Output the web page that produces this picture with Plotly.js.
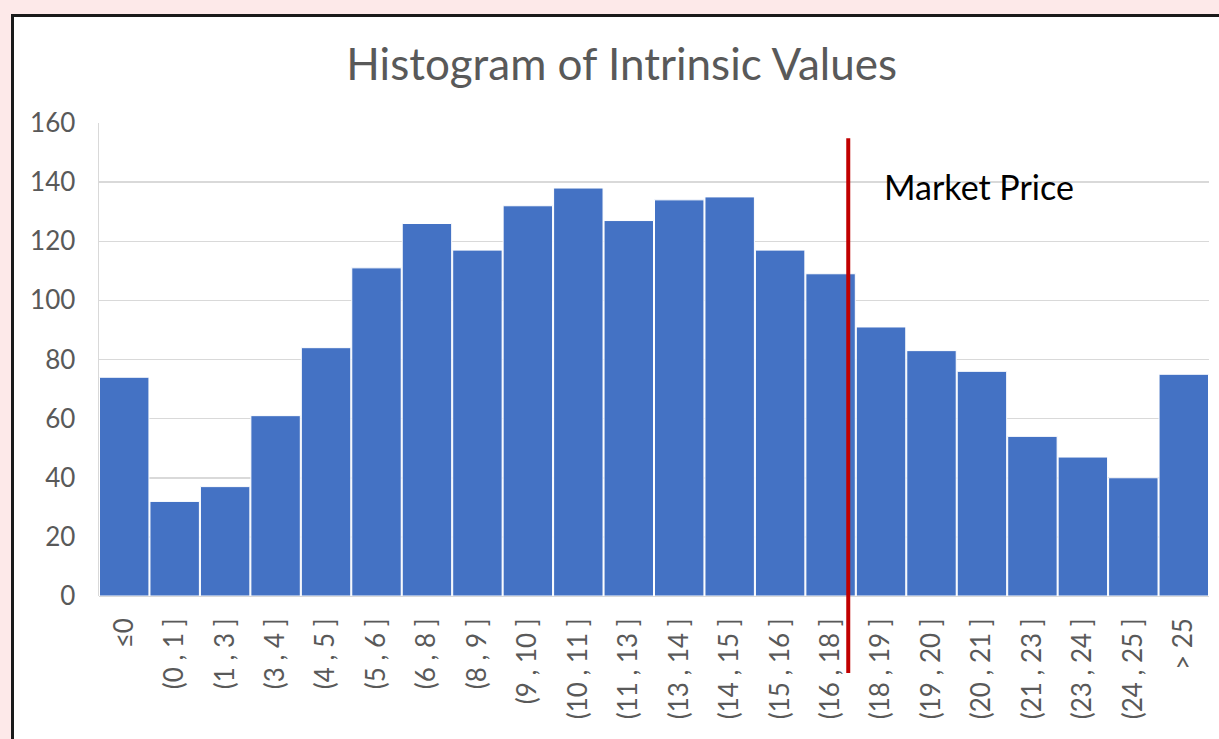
<!DOCTYPE html>
<html>
<head>
<meta charset="utf-8">
<script src="https://cdn.plot.ly/plotly-3.0.1.min.js"></script>
<style>
  html, body { margin: 0; padding: 0; background: #fde9e9; overflow: hidden; }
  #frame { position: absolute; left: 11px; top: 14px; width: 1230px; height: 760px;
           border: 3px solid #1a1a1a; background: #ffffff; }
  #chart { position: absolute; left: 0; top: 0; width: 1219px; height: 739px; }
</style>
</head>
<body>
<div id="frame"></div>
<div id="chart"></div>
<script>
const categories = ["≤0", "(0 , 1 ]", "(1 , 3 ]", "(3 , 4 ]", "(4 , 5 ]", "(5 , 6 ]", "(6 , 8 ]", "(8 , 9 ]",
  "(9 , 10 ]", "(10 , 11 ]", "(11 , 13 ]", "(13 , 14 ]", "(14 , 15 ]", "(15 , 16 ]", "(16 , 18 ]",
  "(18 , 19 ]", "(19 , 20 ]", "(20 , 21 ]", "(21 , 23 ]", "(23 , 24 ]", "(24 , 25 ]", "> 25"];
const counts = [74, 32, 37, 61, 84, 111, 126, 117, 132, 138, 127, 134, 135, 117, 109, 91, 83, 76, 54, 47, 40, 75];
const yTicks = [0, 20, 40, 60, 80, 100, 120, 140, 160];
const marketPricePos = 14.35;   // position on category axis
const marketLabel = "Market Price";

const trace = {
  type: "bar",
  x: categories.map((c, i) => i),
  y: counts,
  marker: { color: "#4472c4", line: { color: "#ffffff", width: 1 } },
  hoverinfo: "x+y"
};

const layout = {
  width: 1219, height: 739,
  paper_bgcolor: "rgba(0,0,0,0)",
  plot_bgcolor: "rgba(0,0,0,0)",
  margin: { l: 99, r: 10, t: 123, b: 143 },
  bargap: 0.02,
  showlegend: false,
  title: { text: "Histogram of Intrinsic Values", x: 0.51, xanchor: "center", y: 0.912, yanchor: "middle",
           font: { family: "Lato, 'Open Sans', sans-serif", size: 44, color: "#595959" } },
  xaxis: {
    tickmode: "array", tickvals: categories.map((c, i) => i), ticktext: categories,
    range: [-0.5, categories.length - 0.5],
    tickangle: -90, ticks: "", showgrid: false, zeroline: false,
    showline: false,
    tickfont: { family: "Lato, 'Open Sans', sans-serif", size: 26, color: "#595959" },
    ticklabelstandoff: 16
  },
  yaxis: {
    range: [0, 160], tickvals: yTicks, ticks: "",
    showgrid: true, gridcolor: "#d9d9d9", gridwidth: 1.5, zeroline: true, zerolinecolor: "#d9d9d9",
    showline: true, linecolor: "#d9d9d9", linewidth: 1.5,
    tickfont: { family: "Lato, 'Open Sans', sans-serif", size: 26, color: "#595959" },
    ticklabelstandoff: 17
  },
  shapes: [{
    type: "line", xref: "x", yref: "paper",
    x0: marketPricePos, x1: marketPricePos, y0: -0.163, y1: 0.968,
    line: { color: "#c00000", width: 4 }, layer: "above"
  }],
  annotations: [{
    text: marketLabel, xref: "x", yref: "y", x: 15.02, y: 138.5,
    xanchor: "left", yanchor: "middle", showarrow: false,
    font: { family: "Lato, 'Open Sans', sans-serif", size: 34, color: "#000000" }
  }]
};

Plotly.newPlot("chart", [trace], layout, { displayModeBar: false, staticPlot: true });
</script>
</body>
</html>
